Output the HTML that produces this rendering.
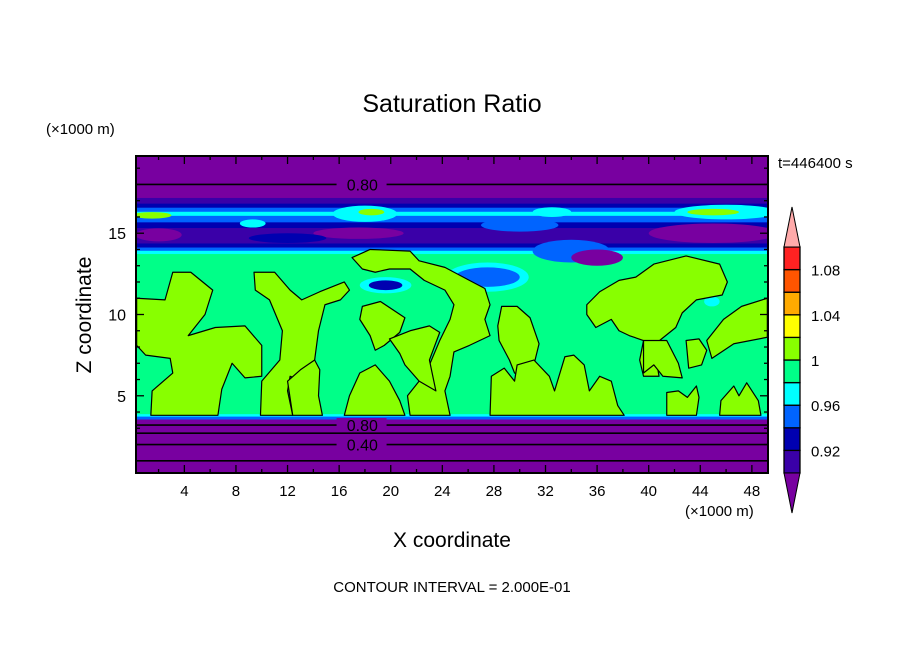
<!DOCTYPE html>
<html><head><meta charset="utf-8"><style>
html,body{margin:0;padding:0;background:#fff;}
svg{display:block;font-family:"Liberation Sans",sans-serif;}
</style></head><body>
<svg id="chart" width="904" height="654" viewBox="0 0 904 654" xmlns="http://www.w3.org/2000/svg">
<text x="452" y="112" font-size="25" text-anchor="middle">Saturation Ratio</text>
<text x="46" y="134" font-size="15">(×1000 m)</text>
<text x="778" y="168" font-size="15">t=446400 s</text>
<text transform="translate(91,315) rotate(-90)" font-size="21" text-anchor="middle">Z coordinate</text>
<text x="452" y="547" font-size="21" text-anchor="middle">X coordinate</text>
<text x="685" y="516" font-size="15">(×1000 m)</text>
<text x="452" y="592" font-size="15" text-anchor="middle">CONTOUR INTERVAL = 2.000E-01</text>
<defs><clipPath id="pc"><rect x="136" y="156" width="632" height="317"/></clipPath></defs>
<g id="field" clip-path="url(#pc)"></g>
<g id="axes"></g>
<g id="cbar"></g>
</svg>
<script>
const NS="http://www.w3.org/2000/svg";
const xTicks=[4,8,12,16,20,24,28,32,36,40,44,48];
const zTicks=[5,10,15];
const cbLevels=[0.90,0.92,0.94,0.96,0.98,1.00,1.02,1.04,1.06,1.08,1.10];
const cbLabels=["0.92","0.96","1","1.04","1.08"];
const cbLabelValues=[0.92,0.96,1.00,1.04,1.08];
const cbColors=["#3a00a8","#0000b0","#0064ff","#00ffff","#00ff88","#88ff00","#ffff00","#ffaa00","#ff5500","#ff2222"];
// horizontal layers: [zBottom, zTop, color]
const layerBottoms=[0.25,3.57,3.75,3.9,13.75,13.95,14.15,14.4,15.35,15.7,16.1,16.35,16.6,16.85,17.2];
const layerTops=[3.57,3.75,3.9,13.75,13.95,14.15,14.4,15.35,15.7,16.1,16.35,16.6,16.85,17.2,19.75];
const layerColors=["#7800a0","#0064ff","#00ffff","#00ff88","#00ffff","#0064ff","#0000b0","#3a00a8","#0000b0","#0064ff","#00ffff","#0064ff","#0000b0","#3a00a8","#7800a0"];
// upper ellipse features: x, z, rx, rz, color
const featX=[18,34,36,27.5,27.5,19.6,19.6,46,45,45,2.0,1.5,9.3,18.5,17.5,32.5,44.9,12,30];
const featZ=[16.2,13.9,13.5,12.3,12.3,11.8,11.8,16.3,15.0,16.3,14.9,16.1,15.6,16.3,15.0,16.3,10.8,14.7,15.5];
const featRX=[2.5,3,2,3.2,2.5,2,1.3,4,5,2,1.8,1.5,1,1,3.5,1.5,0.6,3,3];
const featRZ=[0.5,0.7,0.5,0.9,0.6,0.5,0.3,0.45,0.6,0.2,0.4,0.2,0.25,0.2,0.35,0.3,0.3,0.3,0.4];
const featC=["#00ffff","#0064ff","#7800a0","#00ffff","#0064ff","#00ffff","#0000b0","#00ffff","#7800a0","#88ff00","#7800a0","#88ff00","#00ffff","#88ff00","#7800a0","#00ffff","#00ffff","#0000b0","#0064ff"];
// supersaturated (>1) regions as polygons [x,z]
const blobs=[
[[0.3,11.0],[2.5,10.9],[3.1,12.6],[4.5,12.6],[6.2,11.5],[5.6,10.0],[4.3,8.7],[6.4,9.2],[8.7,9.3],[10.0,8.1],[10.0,6.2],[8.7,6.1],[7.7,7.0],[6.9,5.4],[6.6,3.8],[1.4,3.8],[1.5,5.3],[3.1,6.4],[2.9,7.3],[1.0,7.5],[0.3,8.1]],
[[9.4,12.6],[11.0,12.6],[12.2,11.5],[13.1,10.9],[14.5,11.4],[16.4,12.0],[16.8,11.5],[16.1,10.9],[14.9,10.6],[14.4,9.0],[14.1,7.2],[13.4,6.4],[13.2,5.9],[12.2,6.2],[12.0,5.3],[12.4,3.8],[9.9,3.8],[10.0,5.9],[11.4,7.2],[11.6,9.0],[10.6,10.9],[9.5,11.5]],
[[12.0,5.9],[13.0,6.6],[14.1,7.2],[14.5,6.6],[14.4,5.0],[14.7,3.8],[12.4,3.8]],
[[17.8,10.5],[19.2,10.8],[21.1,9.8],[20.7,8.9],[19.5,8.1],[18.8,7.8],[18.4,8.7],[17.6,9.7]],
[[17.0,13.5],[18.4,14.0],[21.5,13.9],[22.2,13.3],[24.2,12.9],[26.1,12.1],[27.3,11.6],[27.7,10.6],[27.3,9.7],[27.7,8.7],[26.1,8.1],[24.9,7.7],[24.6,6.2],[24.2,5.3],[24.6,3.8],[21.5,3.8],[21.3,5.0],[22.2,5.9],[23.0,6.9],[23.8,8.4],[24.6,9.7],[24.9,10.6],[24.2,11.5],[22.6,12.1],[21.5,12.8],[19.9,12.8],[18.8,12.6],[17.8,12.8]],
[[16.4,3.8],[16.8,5.0],[17.6,6.4],[18.8,6.9],[19.9,5.9],[20.7,4.7],[21.1,3.8]],
[[19.9,8.5],[21.5,9.0],[23.0,9.3],[23.8,8.9],[23.0,7.2],[23.5,5.3],[22.2,5.9],[21.1,6.9],[20.7,7.6]],
[[28.6,10.5],[29.8,10.5],[30.8,9.8],[31.5,8.2],[31.1,6.9],[30.4,6.2],[29.6,6.4],[29.2,7.2],[28.4,8.4],[28.3,9.3]],
[[27.8,6.2],[28.8,6.7],[29.6,5.9],[29.8,6.9],[31.1,7.2],[32.3,6.2],[32.7,5.3],[33.5,7.4],[34.2,7.5],[35.0,6.9],[35.4,5.3],[36.2,6.2],[37.1,5.9],[37.6,4.4],[38.1,3.8],[27.7,3.8]],
[[35.2,10.6],[36.2,11.4],[37.7,12.1],[39.0,12.3],[40.4,13.1],[42.9,13.6],[45.5,13.1],[46.1,12.0],[45.7,11.2],[43.7,10.9],[42.6,10.1],[42.1,9.2],[41.0,8.5],[40.4,8.1],[40.8,6.2],[39.6,6.2],[39.3,7.2],[39.6,8.4],[38.5,8.7],[37.7,9.0],[37.1,9.7],[35.9,9.2],[35.2,10.0]],
[[39.6,8.4],[41.4,8.4],[42.3,7.0],[42.6,6.1],[41.1,6.2],[40.4,6.9],[39.6,6.4]],
[[44.5,8.4],[45.8,9.7],[47.2,10.5],[49.2,11.0],[49.2,8.6],[46.6,8.2],[44.9,7.3]],
[[41.4,3.8],[41.4,5.2],[42.3,5.3],[43.0,4.9],[43.7,5.6],[43.9,4.9],[43.7,3.8]],
[[45.5,3.8],[45.6,4.7],[46.6,5.6],[47.0,5.0],[47.6,5.8],[48.5,4.7],[48.7,3.8]],
[[42.9,8.4],[43.9,8.5],[44.5,7.8],[44.1,6.9],[43.1,6.7]]
];
// labelled horizontal contour lines
const contourZ=[1.0,2.0,2.7,3.2,18.0];
const contourLabels=["","0.40","","0.80","0.80"];

const X0=0.25,X1=49.25,Z0=0.25,Z1=19.75,PL=136,PR=768,PT=156,PB=473;
const sx=x=>PL+(x-X0)/(X1-X0)*(PR-PL);
const sz=z=>PB-(z-Z0)/(Z1-Z0)*(PB-PT);
function mk(tag,attrs,parent){const e=document.createElementNS(NS,tag);for(const k in attrs)e.setAttribute(k,attrs[k]);parent.appendChild(e);return e;}
const field=document.getElementById('field');
layerBottoms.forEach((zb,i)=>{
  const r=mk('rect',{x:PL,y:sz(layerTops[i]),width:PR-PL,height:sz(zb)-sz(layerTops[i])+0.5,fill:layerColors[i]},field);
  
  
});
featX.forEach((x,i)=>{
  const e=mk('ellipse',{cx:sx(x),cy:sz(featZ[i]),rx:featRX[i]*(PR-PL)/(X1-X0),ry:featRZ[i]*(PB-PT)/(Z1-Z0),fill:featC[i]},field);
  
  
});
blobs.forEach(b=>{
  const p=mk('polygon',{points:b.map(q=>sx(q[0])+','+sz(q[1])).join(' '),fill:'#88ff00',stroke:'#000','stroke-width':1.2,'stroke-linejoin':'round'},field);
  
  
});
contourZ.forEach((z,i)=>{
  const l=mk('line',{x1:PL,x2:PR,y1:sz(z),y2:sz(z),stroke:'#000','stroke-width':1.6},field);
  
  
  if(contourLabels[i]){
    const bg=mk('rect',{x:sx(15.8),y:sz(z)-7,width:50,height:14,fill:'#7800a0'},field);
    
    
    const t=mk('text',{x:sx(17.8),y:sz(z)+6,'font-size':16,'text-anchor':'middle',fill:'#000'},field);
    t.textContent=contourLabels[i];
    
    
  }
});
const axes=document.getElementById('axes');
for(let x=2;x<=48;x+=2){
  const major=x%4===0,len=major?8:4;
  mk('line',{x1:sx(x),x2:sx(x),y1:PB,y2:PB-len,stroke:'#000','stroke-width':1.3},axes);
  mk('line',{x1:sx(x),x2:sx(x),y1:PT,y2:PT+len,stroke:'#000','stroke-width':1.3},axes);
}
for(let z=1;z<=19;z++){
  const major=z%5===0,len=major?8:4;
  mk('line',{x1:PL,x2:PL+len,y1:sz(z),y2:sz(z),stroke:'#000','stroke-width':1.3},axes);
  mk('line',{x1:PR,x2:PR-len,y1:sz(z),y2:sz(z),stroke:'#000','stroke-width':1.3},axes);
}
const fr=mk('rect',{x:PL,y:PT,width:PR-PL,height:PB-PT,fill:'none',stroke:'#000','stroke-width':2},axes);


xTicks.forEach(v=>{
  const t=mk('text',{x:sx(v),y:496,'font-size':15,'text-anchor':'middle'},axes);
  t.textContent=v;
  
  
});
zTicks.forEach(v=>{
  const t=mk('text',{x:126,y:sz(v)+6,'font-size':16,'text-anchor':'end'},axes);
  t.textContent=v;
  
  
});
const cb=document.getElementById('cbar');
const CT=247,CB=473,CL=784,CR=800;
const cy=v=>CB-(v-cbLevels[0])/(cbLevels[cbLevels.length-1]-cbLevels[0])*(CB-CT);
cbColors.forEach((c,i)=>{
  const r=mk('rect',{x:CL,y:cy(cbLevels[i+1]),width:CR-CL,height:cy(cbLevels[i])-cy(cbLevels[i+1]),fill:c,stroke:'#000','stroke-width':1.3},cb);
  
  
});
const tu=mk('polygon',{points:`${CL},${CT} ${(CL+CR)/2},207 ${CR},${CT}`,fill:'#ffaaaa',stroke:'#000','stroke-width':1},cb);


const td=mk('polygon',{points:`${CL},${CB} ${(CL+CR)/2},513 ${CR},${CB}`,fill:'#7800a0',stroke:'#000','stroke-width':1},cb);


cbLabelValues.forEach((v,i)=>{
  const t=mk('text',{x:811,y:cy(v)+6,'font-size':15},cb);
  t.textContent=cbLabels[i];
  
  
});
</script>
</body></html>
